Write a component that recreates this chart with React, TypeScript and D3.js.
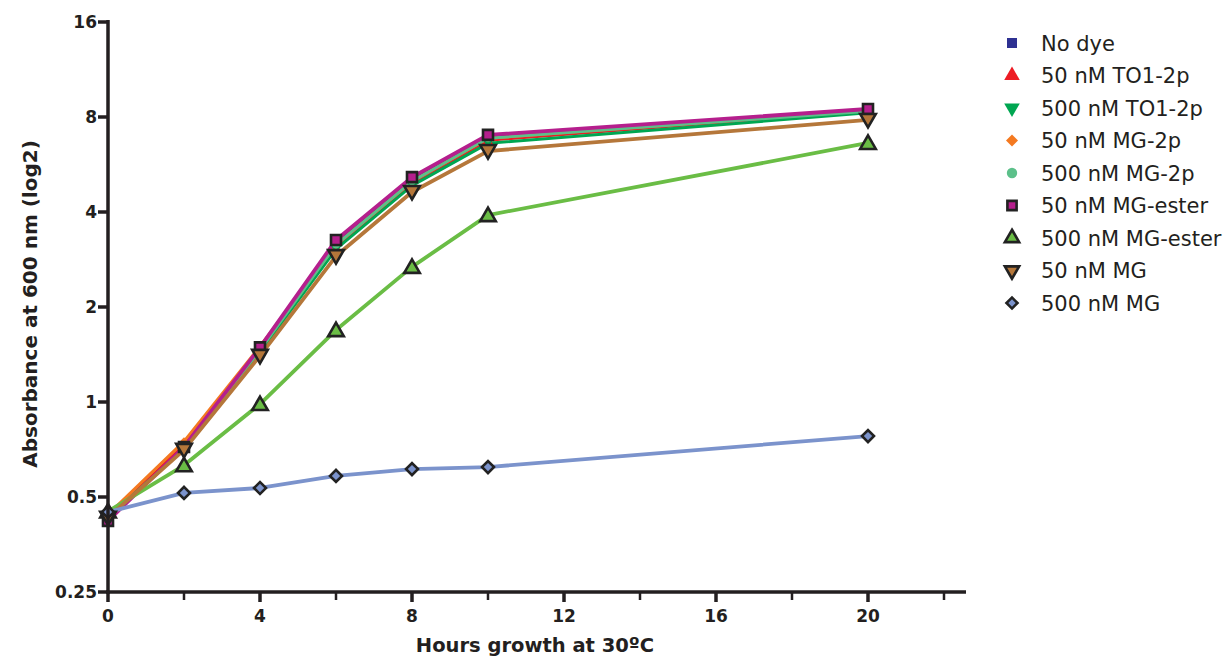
import React, { useEffect, useRef } from 'react'
import * as d3 from 'd3'

// hours
const hours = [0, 2, 4, 6, 8, 10, 20]

const seriesNames = [
  'No dye',
  '50 nM TO1-2p',
  '500 nM TO1-2p',
  '50 nM MG-2p',
  '500 nM MG-2p',
  '50 nM MG-ester',
  '500 nM MG-ester',
  '50 nM MG',
  '500 nM MG',
]

const noDye = [0.43, 0.72, 1.47, 3.2, 5.05, 6.9, 8.4]
const to1_50 = [0.43, 0.73, 1.45, 3.1, 4.9, 6.75, 8.35]
const to1_500 = [0.43, 0.71, 1.44, 3.05, 4.85, 6.6, 8.25]
const mg2p_50 = [0.44, 0.75, 1.5, 3.15, 5.0, 6.85, 8.4]
const mg2p_500 = [0.43, 0.71, 1.46, 3.15, 5.0, 6.85, 8.35]
const mgEster_50 = [0.42, 0.72, 1.49, 3.26, 5.16, 7.02, 8.48]
const mgEster_500 = [0.45, 0.63, 0.985, 1.69, 2.68, 3.91, 6.62]
const mg_50 = [0.43, 0.705, 1.4, 2.9, 4.63, 6.24, 7.83]
const mg_500 = [0.448, 0.515, 0.534, 0.583, 0.613, 0.622, 0.78]

const yTicks = [0.25, 0.5, 1, 2, 4, 8, 16]
const xMajor = [0, 4, 8, 12, 16, 20]
const xMinor = [2, 6, 10, 14, 18, 22]

const allValues = [noDye, to1_50, to1_500, mg2p_50, mg2p_500, mgEster_50, mgEster_500, mg_50, mg_500]
const lineColors = ['#2e3192', '#ed1c24', '#00a651', '#f47920', '#5cc08a', '#b51f8d', '#6abd45', '#b5773a', '#7b93cc']
const shapes = ['square', 'triangle', 'triangleDown', 'diamond', 'circle', 'square', 'triangle', 'triangleDown', 'diamond']

function symbolPath(shape: string, scale: number) {
  let type: any = d3.symbolSquare
  let size = 100
  if (shape === 'triangle' || shape === 'triangleDown') { type = d3.symbolTriangle; size = 105 }
  if (shape === 'diamond') { type = d3.symbolSquare; size = 72 }
  if (shape === 'circle') { type = d3.symbolCircle; size = 85 }
  return d3.symbol().type(type).size(size * scale * scale)()
}

function symbolRot(shape: string) {
  if (shape === 'triangleDown') return ' rotate(180)'
  if (shape === 'diamond') return ' rotate(45)'
  return ''
}

export default function App() {
  const ref = useRef<SVGSVGElement>(null)

  useEffect(() => {
    const svg = d3.select(ref.current)
    svg.selectAll('*').remove()

    const x = d3.scaleLinear().domain([0, 20]).range([108, 868])
    const y = d3.scaleLog().base(2).domain([0.25, 16]).range([592, 22])
    const boldFont = '"DejaVu Sans", Arial, sans-serif'
    const legFont = '"DejaVu Sans", Arial, sans-serif'

    // lines
    const line = d3.line<number>().x((d, i) => x(hours[i])).y(d => y(d))
    const plot = svg.append('g')
    allValues.forEach((vals, k) => {
      plot.append('path')
        .attr('d', line(vals))
        .attr('fill', 'none')
        .attr('stroke', lineColors[k])
        .attr('stroke-width', k >= 5 ? 3.8 : 3)
        .attr('stroke-linejoin', 'round')
    })
    allValues.forEach((vals, k) => {
      const big = k >= 5
      vals.forEach((v, i) => {
        const dy = shapes[k] === 'triangle' ? 1.5 : shapes[k] === 'triangleDown' ? -1.5 : 0
        plot.append('path')
          .attr('d', symbolPath(shapes[k], big ? 1 : 0.7))
          .attr('transform', 'translate(' + x(hours[i]) + ',' + (y(v) + dy) + ')' + symbolRot(shapes[k]))
          .attr('fill', lineColors[k])
          .attr('stroke', big ? '#222' : 'none')
          .attr('stroke-width', 2.6)
      })
    })

    // axes
    const axes = svg.append('g').attr('stroke', '#231f20').attr('stroke-width', 3.5)
    axes.append('line').attr('x1', 108).attr('x2', 108).attr('y1', 20).attr('y2', 594)
    axes.append('line').attr('x1', 106).attr('x2', 966).attr('y1', 592).attr('y2', 592)
    yTicks.forEach(t => {
      axes.append('line').attr('x1', 98).attr('x2', 108).attr('y1', y(t)).attr('y2', y(t))
      svg.append('text')
        .attr('x', 97).attr('y', y(t) + 6)
        .attr('text-anchor', 'end')
        .attr('font-family', boldFont).attr('font-weight', 'bold').attr('font-size', 17)
        .attr('fill', '#231f20')
        .text(String(t))
    })
    xMajor.concat(xMinor).forEach(t => {
      const major = xMajor.indexOf(t) >= 0
      axes.append('line').attr('x1', x(t)).attr('x2', x(t)).attr('y1', 592).attr('y2', major ? 602 : 600)
        .attr('stroke-width', major ? 3.5 : 2.5)
    })
    xMajor.forEach(t => {
      svg.append('text')
        .attr('x', x(t)).attr('y', 622)
        .attr('text-anchor', 'middle')
        .attr('font-family', boldFont).attr('font-weight', 'bold').attr('font-size', 17)
        .attr('fill', '#231f20')
        .text(String(t))
    })

    svg.append('text')
      .attr('x', 535).attr('y', 652)
      .attr('text-anchor', 'middle')
      .attr('font-family', boldFont).attr('font-weight', 'bold').attr('font-size', 19.5)
      .attr('fill', '#231f20')
      .text('Hours growth at 30ºC')
    svg.append('text')
      .attr('transform', 'translate(37,304) rotate(-90)')
      .attr('text-anchor', 'middle')
      .attr('font-family', boldFont).attr('font-weight', 'bold').attr('font-size', 20)
      .attr('fill', '#231f20')
      .text('Absorbance at 600 nm (log2)')

    // legend
    const leg = svg.append('g')
    seriesNames.forEach((name, k) => {
      const ly = 43 + k * 32.5
      const big = k >= 5
      leg.append('path')
        .attr('d', symbolPath(shapes[k], big ? 0.92 : 1.0))
        .attr('transform', 'translate(1012,' + ly + ')' + symbolRot(shapes[k]))
        .attr('fill', lineColors[k])
        .attr('stroke', big ? '#222' : 'none')
        .attr('stroke-width', 2.6)
      leg.append('text')
        .attr('x', 1041).attr('y', ly + 7.5)
        .attr('font-family', legFont).attr('font-size', 21)
        .attr('fill', '#231f20')
        .text(name)
    })
  }, [])

  return (
    <div style={{ position: 'fixed', left: 0, top: 0, width: 1229, height: 661, overflow: 'hidden' }}>
      <svg ref={ref} width={1229} height={661} style={{ display: 'block', background: '#fff' }} />
    </div>
  )
}
